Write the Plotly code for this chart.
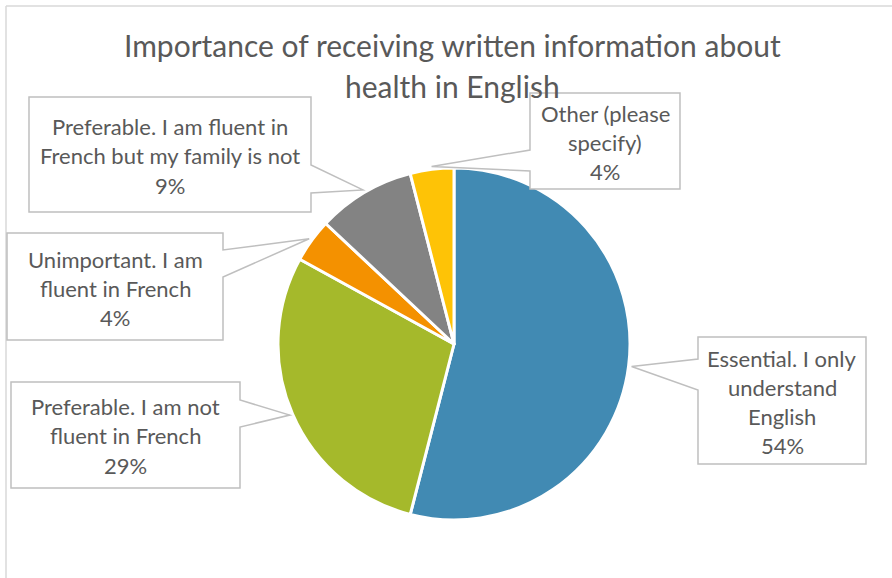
import math
import plotly.graph_objects as go

# Survey responses
labels = [
    "Essential. I only understand English",
    "Preferable. I am not fluent in French",
    "Unimportant. I am fluent in French",
    "Preferable. I am fluent in French but my family is not",
    "Other (please specify)",
]
values = [54, 29, 4, 9, 4]
colors = ["#418AB3", "#A5B92B", "#F49100", "#838383", "#FEC306"]

# Callout text lines for each slice (percentage appended from values)
label_lines = [
    ["Essential. I only", "understand", "English"],
    ["Preferable. I am not", "fluent in French"],
    ["Unimportant. I am", "fluent in French"],
    ["Preferable. I am fluent in", "French but my family is not"],
    ["Other (please", "specify)"],
]

title_lines = ["Importance of receiving written information about", "health in English"]

W, H = 892, 578
CX, CY, R = 454, 344, 176
TEXT = "#595959"
BORDER = "#BFBFBF"
FONT = "Lato"


def px(x):
    return x / W


def py(y):
    return 1 - y / H


# Callout boxes: (left, top, right, bottom), side of pointer, notch y-range, first line centre, line step
boxes = [
    dict(box=(698, 337, 866, 464), side="left", notch=(359, 390), y0=358, step=29),
    dict(box=(11, 382, 240, 488), side="right", notch=(400, 427), y0=406, step=29.5),
    dict(box=(7, 233, 223, 340), side="right", notch=(250, 277), y0=259, step=29),
    dict(box=(29, 97, 311, 212), side="right", notch=(165, 193), y0=126, step=29.5),
    dict(box=(530, 93, 680, 189), side="left", notch=(150, 171), y0=113, step=29),
]

fig = go.Figure()
fig.add_trace(go.Pie(
    labels=labels,
    values=values,
    sort=False,
    direction="clockwise",
    rotation=0,
    marker=dict(colors=colors, line=dict(color="white", width=3)),
    textinfo="none",
    hoverinfo="label+percent",
    domain=dict(x=[px(CX - R), px(CX + R)], y=[py(CY + R), py(CY - R)]),
))

shapes = []
annotations = []

# Chart area frame (top and left edges)
shapes.append(dict(type="line", xref="paper", yref="paper",
                   x0=px(6), y0=py(6), x1=px(W + 5), y1=py(6),
                   line=dict(color="#D9D9D9", width=1.5)))
shapes.append(dict(type="line", xref="paper", yref="paper",
                   x0=px(6), y0=py(6), x1=px(6), y1=py(H + 5),
                   line=dict(color="#D9D9D9", width=1.5)))

total = sum(values)
cum = 0
for i, v in enumerate(values):
    mid = (cum + v / 2) / total * 2 * math.pi
    cum += v
    tip_x = CX + (R + 3) * math.sin(mid)
    tip_y = CY - (R + 3) * math.cos(mid)
    b = boxes[i]
    l, t, r, btm = b["box"]
    n0, n1 = b["notch"]
    if b["side"] == "left":
        pts = [(l, t), (r, t), (r, btm), (l, btm), (l, n1), (tip_x, tip_y), (l, n0)]
    else:
        pts = [(l, t), (r, t), (r, n0), (tip_x, tip_y), (r, n1), (r, btm), (l, btm)]
    path = "M " + " L ".join(f"{px(x):.5f},{py(y):.5f}" for x, y in pts) + " Z"
    shapes.append(dict(type="path", xref="paper", yref="paper", path=path,
                       fillcolor="white", line=dict(color=BORDER, width=1.5)))
    lines = label_lines[i] + [f"{round(v / total * 100)}%"]
    for k, line in enumerate(lines):
        annotations.append(dict(
            text=line, xref="paper", yref="paper",
            x=px((l + r) / 2), y=py(b["y0"] + k * b["step"]),
            xanchor="center", yanchor="middle", showarrow=False,
            font=dict(family=FONT, size=22, color=TEXT),
        ))

for k, line in enumerate(title_lines):
    annotations.append(dict(
        text=line, xref="paper", yref="paper",
        x=px(453), y=py(45 + k * 41),
        xanchor="center", yanchor="middle", showarrow=False,
        font=dict(family=FONT, size=30, color=TEXT),
    ))

fig.update_layout(
    width=W, height=H,
    margin=dict(l=0, r=0, t=0, b=0),
    paper_bgcolor="white",
    plot_bgcolor="white",
    showlegend=False,
    shapes=shapes,
    annotations=annotations,
)

fig.write_html("out.html")
